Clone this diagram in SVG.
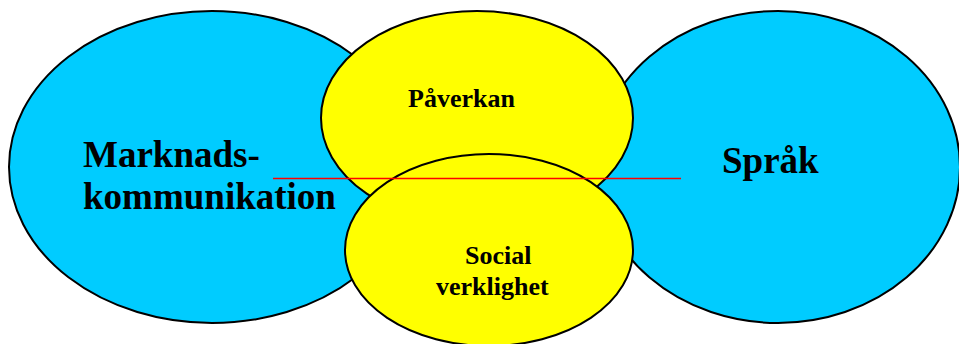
<svg xmlns="http://www.w3.org/2000/svg" width="959" height="344" viewBox="0 0 959 344">
<style>
.blue{fill:#00CCFF;stroke:#000;stroke-width:2}
.yellow{fill:#FFFF00;stroke:#000;stroke-width:2}
.t{font-family:"Liberation Serif","Times New Roman",serif;font-weight:bold;fill:#000}
.big{font-size:37px}
.small{font-size:26px}
</style>
<rect width="959" height="344" fill="#fff"/>
<g id="marknadskommunikation">
<ellipse class="blue" cx="212" cy="167" rx="203" ry="156"/>
<text class="t big" x="83" y="167">Marknads-</text>
<text class="t big" x="83" y="209">kommunikation</text>
</g>
<g id="sprak">
<ellipse class="blue" cx="778" cy="167" rx="182" ry="156"/>
<text class="t big" x="722" y="173">Språk</text>
</g>
<g id="paverkan">
<ellipse class="yellow" cx="477" cy="118" rx="156" ry="107"/>
<text class="t small" x="408" y="107">Påverkan</text>
</g>
<g id="social-verklighet">
<ellipse class="yellow" cx="489" cy="250" rx="144" ry="96"/>
<text class="t small" x="465" y="264">Social</text>
<text class="t small" x="436" y="295">verklighet</text>
</g>
<g id="connectors">
<line x1="273" y1="178.5" x2="681" y2="178.5" stroke="#FF0000" stroke-width="1.3"/>
</g>
</svg>
